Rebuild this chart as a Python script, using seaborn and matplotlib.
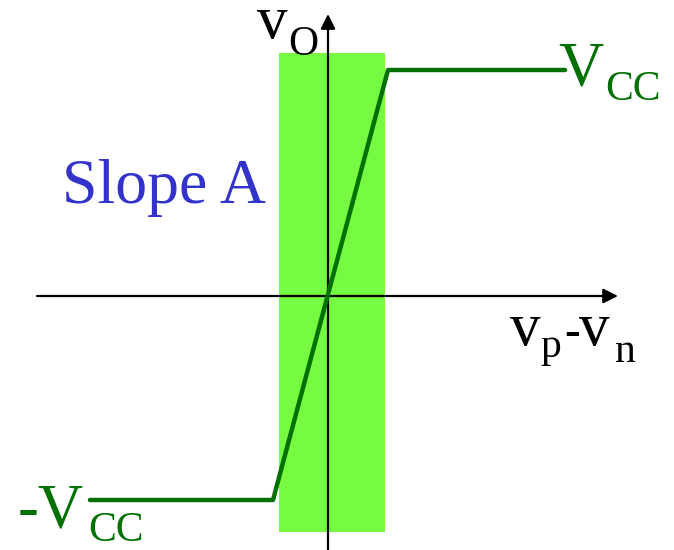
import matplotlib
matplotlib.use("Agg")
import matplotlib.pyplot as plt
import seaborn as sns
import pandas as pd

# transfer curve of the op amp (offsets from the origin, drawing units)
vd = [-238, -55, 60, 237]        # vp - vn
vo = [-204, -204, 226, 226]      # output voltage

# linear region band
band_x = [-49, 57]
band_y = [-236, 243]

df = pd.DataFrame({"vd": vd, "vo": vo})

sns.set_style("white")
plt.rcParams["font.family"] = ["Liberation Serif", "DejaVu Serif"]

fig = plt.figure(figsize=(6.74, 5.5), dpi=100)
ax = fig.add_axes([0, 0, 1, 1])
ax.set_xlim(-328, 346)
ax.set_ylim(-254, 296)
ax.axis("off")

# green linear region
ax.fill_between(band_x, band_y[0], band_y[1], color="#77fb42", lw=0, zorder=1)

# axes with arrows
arrow = dict(arrowstyle="-|>", color="black", lw=1.6, mutation_scale=22, shrinkA=0, shrinkB=0)
ax.annotate("", xy=(290, 0), xytext=(-291, 0), arrowprops=arrow, zorder=3)
ax.annotate("", xy=(0, 282), xytext=(0, -260), arrowprops=arrow, zorder=3)

sns.lineplot(data=df, x="vd", y="vo", color="#007000", lw=3.2, sort=False,
             ax=ax, zorder=4)
ax.set_xlabel("")
ax.set_ylabel("")

green = "#007000"
ax.text(230, 211, "V", fontsize=45, color=green, ha="left", va="baseline")
ax.text(277, 196, "CC", fontsize=30, color=green, ha="left", va="baseline")
ax.text(-310, -232, "-V", fontsize=45, color=green, ha="left", va="baseline")
ax.text(-240, -245, "CC", fontsize=30, color=green, ha="left", va="baseline")

ax.text(-71, 258, "v", fontsize=44, color="black", ha="left", va="baseline")
ax.text(-40, 241, "O", fontsize=30, color="black", ha="left", va="baseline")

ax.text(182, -49, "v", fontsize=44, color="black", ha="left", va="baseline")
ax.text(212, -61, "p", fontsize=30, color="black", ha="left", va="baseline")
ax.text(236, -49, "-", fontsize=34, color="black", ha="left", va="baseline",
        fontweight="bold")
ax.text(251, -49, "v", fontsize=44, color="black", ha="left", va="baseline")
ax.text(287, -66, "n", fontsize=30, color="black", ha="left", va="baseline")

ax.text(-266, 93, "Slope A", fontsize=46, color="#3333cc", ha="left", va="baseline")

fig.savefig("out.png", dpi=100)
